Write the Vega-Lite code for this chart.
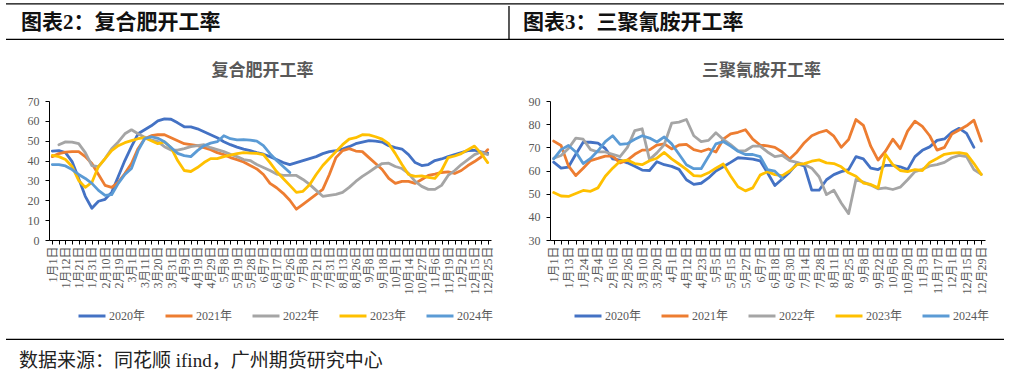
{
 "$schema": "https://vega.github.io/schema/vega-lite/v6.json",
 "background": "white",
 "padding": {"top": 0, "left": 5, "right": 4, "bottom": 0},
 "config": {
  "view": {"stroke": null},
  "font": "Liberation Serif, Noto Sans CJK SC",
  "axis": {"domainColor": "#000000", "tickColor": "#000000", "labelColor": "#595959", "labelFont": "Liberation Serif, Noto Sans CJK SC", "labelFontSize": 12, "grid": false},
  "legend": {"labelFont": "Liberation Serif, Noto Sans CJK SC", "labelFontSize": 12, "labelColor": "#595959", "symbolType": "stroke", "symbolSize": 729, "symbolStrokeWidth": 3, "columnPadding": 13, "labelOffset": 2},
  "title": {"font": "Noto Sans CJK SC", "fontSize": 17, "fontWeight": "bold", "color": "#595959", "anchor": "middle", "offset": 15}
 },
 "datasets": {
  "fert": [
   {"i":0,"year":"2020年","rate":44.8},{"i":1,"year":"2020年","rate":45},{"i":2,"year":"2020年","rate":44},{"i":3,"year":"2020年","rate":39.5},{"i":4,"year":"2020年","rate":31},{"i":5,"year":"2020年","rate":22},{"i":6,"year":"2020年","rate":16},{"i":7,"year":"2020年","rate":19.5},{"i":8,"year":"2020年","rate":20.5},{"i":9,"year":"2020年","rate":24},
   {"i":10,"year":"2020年","rate":32},{"i":11,"year":"2020年","rate":40},{"i":12,"year":"2020年","rate":47},{"i":13,"year":"2020年","rate":53.5},{"i":14,"year":"2020年","rate":55.5},{"i":15,"year":"2020年","rate":57.5},{"i":16,"year":"2020年","rate":60},{"i":17,"year":"2020年","rate":61},{"i":18,"year":"2020年","rate":60.8},{"i":19,"year":"2020年","rate":59},
   {"i":20,"year":"2020年","rate":57},{"i":21,"year":"2020年","rate":57},{"i":22,"year":"2020年","rate":56},{"i":23,"year":"2020年","rate":54.5},{"i":24,"year":"2020年","rate":53},{"i":25,"year":"2020年","rate":51.5},{"i":26,"year":"2020年","rate":49.5},{"i":27,"year":"2020年","rate":48},{"i":28,"year":"2020年","rate":46.8},{"i":29,"year":"2020年","rate":45.8},
   {"i":30,"year":"2020年","rate":45},{"i":31,"year":"2020年","rate":44},{"i":32,"year":"2020年","rate":43.2},{"i":33,"year":"2020年","rate":42},{"i":34,"year":"2020年","rate":40.5},{"i":35,"year":"2020年","rate":39},{"i":36,"year":"2020年","rate":38},{"i":37,"year":"2020年","rate":39},{"i":38,"year":"2020年","rate":40},{"i":39,"year":"2020年","rate":41},
   {"i":40,"year":"2020年","rate":42},{"i":41,"year":"2020年","rate":43.5},{"i":42,"year":"2020年","rate":44.5},{"i":43,"year":"2020年","rate":45},{"i":44,"year":"2020年","rate":45.8},{"i":45,"year":"2020年","rate":47},{"i":46,"year":"2020年","rate":48.5},{"i":47,"year":"2020年","rate":49.3},{"i":48,"year":"2020年","rate":50},{"i":49,"year":"2020年","rate":49.8},
   {"i":50,"year":"2020年","rate":49.3},{"i":51,"year":"2020年","rate":47.5},{"i":52,"year":"2020年","rate":46.5},{"i":53,"year":"2020年","rate":45.8},{"i":54,"year":"2020年","rate":43},{"i":55,"year":"2020年","rate":39},{"i":56,"year":"2020年","rate":37.5},{"i":57,"year":"2020年","rate":38},{"i":58,"year":"2020年","rate":40},{"i":59,"year":"2020年","rate":40.8},
   {"i":60,"year":"2020年","rate":42},{"i":61,"year":"2020年","rate":43},{"i":62,"year":"2020年","rate":44},{"i":63,"year":"2020年","rate":45},{"i":64,"year":"2020年","rate":45.2},{"i":65,"year":"2020年","rate":44.4},{"i":66,"year":"2020年","rate":43.8},

   {"i":0,"year":"2021年","rate":42},{"i":1,"year":"2021年","rate":43.5},{"i":2,"year":"2021年","rate":44.3},{"i":3,"year":"2021年","rate":44.5},{"i":4,"year":"2021年","rate":44.5},{"i":5,"year":"2021年","rate":42},{"i":6,"year":"2021年","rate":38.5},{"i":7,"year":"2021年","rate":33},{"i":8,"year":"2021年","rate":27.5},{"i":9,"year":"2021年","rate":26.5},
   {"i":10,"year":"2021年","rate":29},{"i":11,"year":"2021年","rate":33.5},{"i":12,"year":"2021年","rate":38.5},{"i":13,"year":"2021年","rate":46},{"i":14,"year":"2021年","rate":51},{"i":15,"year":"2021年","rate":52.5},{"i":16,"year":"2021年","rate":53},{"i":17,"year":"2021年","rate":53},{"i":18,"year":"2021年","rate":51.5},{"i":19,"year":"2021年","rate":50},
   {"i":20,"year":"2021年","rate":48.5},{"i":21,"year":"2021年","rate":48},{"i":22,"year":"2021年","rate":47.5},{"i":23,"year":"2021年","rate":46.5},{"i":24,"year":"2021年","rate":45.5},{"i":25,"year":"2021年","rate":44},{"i":26,"year":"2021年","rate":43},{"i":27,"year":"2021年","rate":41.5},{"i":28,"year":"2021年","rate":40.5},{"i":29,"year":"2021年","rate":39.3},
   {"i":30,"year":"2021年","rate":37.5},{"i":31,"year":"2021年","rate":35.8},{"i":32,"year":"2021年","rate":33},{"i":33,"year":"2021年","rate":28.5},{"i":34,"year":"2021年","rate":26.3},{"i":35,"year":"2021年","rate":23.5},{"i":36,"year":"2021年","rate":20},{"i":37,"year":"2021年","rate":15.5},{"i":38,"year":"2021年","rate":18},{"i":39,"year":"2021年","rate":20.5},
   {"i":40,"year":"2021年","rate":23},{"i":41,"year":"2021年","rate":25.5},{"i":42,"year":"2021年","rate":33},{"i":43,"year":"2021年","rate":41.5},{"i":44,"year":"2021年","rate":45},{"i":45,"year":"2021年","rate":46},{"i":46,"year":"2021年","rate":44.8},{"i":47,"year":"2021年","rate":44.5},{"i":48,"year":"2021年","rate":41.5},{"i":49,"year":"2021年","rate":38.5},
   {"i":50,"year":"2021年","rate":35.5},{"i":51,"year":"2021年","rate":31},{"i":52,"year":"2021年","rate":28.5},{"i":53,"year":"2021年","rate":29.5},{"i":54,"year":"2021年","rate":29.5},{"i":55,"year":"2021年","rate":28.5},{"i":56,"year":"2021年","rate":30.5},{"i":57,"year":"2021年","rate":32.5},{"i":58,"year":"2021年","rate":33.2},{"i":59,"year":"2021年","rate":34},
   {"i":60,"year":"2021年","rate":34.3},{"i":61,"year":"2021年","rate":33.5},{"i":62,"year":"2021年","rate":35},{"i":63,"year":"2021年","rate":37.5},{"i":64,"year":"2021年","rate":39.5},{"i":65,"year":"2021年","rate":41.8},{"i":66,"year":"2021年","rate":45.5},

   {"i":1,"year":"2022年","rate":48},{"i":2,"year":"2022年","rate":49.4},{"i":3,"year":"2022年","rate":49.3},{"i":4,"year":"2022年","rate":48.5},{"i":5,"year":"2022年","rate":44},{"i":6,"year":"2022年","rate":37.5},{"i":7,"year":"2022年","rate":37},{"i":8,"year":"2022年","rate":41},{"i":9,"year":"2022年","rate":46},{"i":10,"year":"2022年","rate":49.4},
   {"i":11,"year":"2022年","rate":53.5},{"i":12,"year":"2022年","rate":55.5},{"i":13,"year":"2022年","rate":53.5},{"i":14,"year":"2022年","rate":51.8},{"i":15,"year":"2022年","rate":50.5},{"i":16,"year":"2022年","rate":49.5},{"i":17,"year":"2022年","rate":47},{"i":18,"year":"2022年","rate":45.3},{"i":19,"year":"2022年","rate":45.3},{"i":20,"year":"2022年","rate":46},
   {"i":21,"year":"2022年","rate":47},{"i":22,"year":"2022年","rate":47.5},{"i":23,"year":"2022年","rate":48},{"i":24,"year":"2022年","rate":46.5},{"i":25,"year":"2022年","rate":45.5},{"i":26,"year":"2022年","rate":44.5},{"i":27,"year":"2022年","rate":43.2},{"i":28,"year":"2022年","rate":42},{"i":29,"year":"2022年","rate":40.5},{"i":30,"year":"2022年","rate":40},
   {"i":31,"year":"2022年","rate":38},{"i":32,"year":"2022年","rate":36.5},{"i":33,"year":"2022年","rate":35},{"i":34,"year":"2022年","rate":33.2},{"i":35,"year":"2022年","rate":32.5},{"i":36,"year":"2022年","rate":32.5},{"i":37,"year":"2022年","rate":32.5},{"i":38,"year":"2022年","rate":30.5},{"i":39,"year":"2022年","rate":28},{"i":40,"year":"2022年","rate":25},
   {"i":41,"year":"2022年","rate":22},{"i":42,"year":"2022年","rate":22.5},{"i":43,"year":"2022年","rate":23},{"i":44,"year":"2022年","rate":24},{"i":45,"year":"2022年","rate":26.5},{"i":46,"year":"2022年","rate":29.5},{"i":47,"year":"2022年","rate":32},{"i":48,"year":"2022年","rate":34.2},{"i":49,"year":"2022年","rate":36.5},{"i":50,"year":"2022年","rate":38.5},
   {"i":51,"year":"2022年","rate":38.7},{"i":52,"year":"2022年","rate":37},{"i":53,"year":"2022年","rate":36},{"i":54,"year":"2022年","rate":33.5},{"i":55,"year":"2022年","rate":29.5},{"i":56,"year":"2022年","rate":27},{"i":57,"year":"2022年","rate":25.5},{"i":58,"year":"2022年","rate":25.5},{"i":59,"year":"2022年","rate":27.5},{"i":60,"year":"2022年","rate":32.5},
   {"i":61,"year":"2022年","rate":35},{"i":62,"year":"2022年","rate":38},{"i":63,"year":"2022年","rate":40.5},{"i":64,"year":"2022年","rate":43},{"i":65,"year":"2022年","rate":44.3},{"i":66,"year":"2022年","rate":43},

   {"i":0,"year":"2023年","rate":42.6},{"i":1,"year":"2023年","rate":42},{"i":2,"year":"2023年","rate":40.5},{"i":3,"year":"2023年","rate":37},{"i":4,"year":"2023年","rate":30},{"i":5,"year":"2023年","rate":26.5},{"i":6,"year":"2023年","rate":29},{"i":7,"year":"2023年","rate":37},{"i":8,"year":"2023年","rate":41},{"i":9,"year":"2023年","rate":45},
   {"i":10,"year":"2023年","rate":47.5},{"i":11,"year":"2023年","rate":49},{"i":12,"year":"2023年","rate":50},{"i":13,"year":"2023年","rate":51},{"i":14,"year":"2023年","rate":51.5},{"i":15,"year":"2023年","rate":50},{"i":16,"year":"2023年","rate":48.5},{"i":17,"year":"2023年","rate":49.4},{"i":18,"year":"2023年","rate":46.5},{"i":19,"year":"2023年","rate":40},
   {"i":20,"year":"2023年","rate":35},{"i":21,"year":"2023年","rate":34.5},{"i":22,"year":"2023年","rate":36.5},{"i":23,"year":"2023年","rate":39},{"i":24,"year":"2023年","rate":41},{"i":25,"year":"2023年","rate":41},{"i":26,"year":"2023年","rate":42},{"i":27,"year":"2023年","rate":42.8},{"i":28,"year":"2023年","rate":43.5},{"i":29,"year":"2023年","rate":44},
   {"i":30,"year":"2023年","rate":43.8},{"i":31,"year":"2023年","rate":43.6},{"i":32,"year":"2023年","rate":43},{"i":33,"year":"2023年","rate":39},{"i":34,"year":"2023年","rate":34.5},{"i":35,"year":"2023年","rate":31},{"i":36,"year":"2023年","rate":27.5},{"i":37,"year":"2023年","rate":24},{"i":38,"year":"2023年","rate":24.5},{"i":39,"year":"2023年","rate":27.8},
   {"i":40,"year":"2023年","rate":33},{"i":41,"year":"2023年","rate":37.5},{"i":42,"year":"2023年","rate":41},{"i":43,"year":"2023年","rate":44.5},{"i":44,"year":"2023年","rate":48},{"i":45,"year":"2023年","rate":50.8},{"i":46,"year":"2023年","rate":51.5},{"i":47,"year":"2023年","rate":53},{"i":48,"year":"2023年","rate":52.9},{"i":49,"year":"2023年","rate":52},
   {"i":50,"year":"2023年","rate":50.8},{"i":51,"year":"2023年","rate":48.5},{"i":52,"year":"2023年","rate":43.5},{"i":53,"year":"2023年","rate":38},{"i":54,"year":"2023年","rate":33},{"i":55,"year":"2023年","rate":32},{"i":56,"year":"2023年","rate":32.3},{"i":57,"year":"2023年","rate":31.5},{"i":58,"year":"2023年","rate":31},{"i":59,"year":"2023年","rate":35},
   {"i":60,"year":"2023年","rate":41.5},{"i":61,"year":"2023年","rate":42.3},{"i":62,"year":"2023年","rate":43.5},{"i":63,"year":"2023年","rate":45.5},{"i":64,"year":"2023年","rate":47.3},{"i":65,"year":"2023年","rate":43.6},{"i":66,"year":"2023年","rate":39},

   {"i":0,"year":"2024年","rate":38},{"i":1,"year":"2024年","rate":38},{"i":2,"year":"2024年","rate":37.3},{"i":3,"year":"2024年","rate":35.5},{"i":4,"year":"2024年","rate":33},{"i":5,"year":"2024年","rate":31},{"i":6,"year":"2024年","rate":28.5},{"i":7,"year":"2024年","rate":25},{"i":8,"year":"2024年","rate":22.5},{"i":9,"year":"2024年","rate":22.8},
   {"i":10,"year":"2024年","rate":28.5},{"i":11,"year":"2024年","rate":33},{"i":12,"year":"2024年","rate":36},{"i":13,"year":"2024年","rate":45},{"i":14,"year":"2024年","rate":51},{"i":15,"year":"2024年","rate":52},{"i":16,"year":"2024年","rate":51.2},{"i":17,"year":"2024年","rate":49.5},{"i":18,"year":"2024年","rate":46.5},{"i":19,"year":"2024年","rate":43.6},
   {"i":20,"year":"2024年","rate":42.5},{"i":21,"year":"2024年","rate":42},{"i":22,"year":"2024年","rate":45},{"i":23,"year":"2024年","rate":47.5},{"i":24,"year":"2024年","rate":48.8},{"i":25,"year":"2024年","rate":49.5},{"i":26,"year":"2024年","rate":52.5},{"i":27,"year":"2024年","rate":51},{"i":28,"year":"2024年","rate":50.4},{"i":29,"year":"2024年","rate":50.6},
   {"i":30,"year":"2024年","rate":50.3},{"i":31,"year":"2024年","rate":49.8},{"i":32,"year":"2024年","rate":47.5},{"i":33,"year":"2024年","rate":43.5},{"i":34,"year":"2024年","rate":40},{"i":35,"year":"2024年","rate":37},{"i":36,"year":"2024年","rate":34}
  ],
  "mel": [
   {"i":0,"year":"2020年","rate":63.6},{"i":1,"year":"2020年","rate":61},{"i":2,"year":"2020年","rate":61.5},{"i":3,"year":"2020年","rate":67},{"i":4,"year":"2020年","rate":72.2},{"i":5,"year":"2020年","rate":72.2},{"i":6,"year":"2020年","rate":71.8},{"i":7,"year":"2020年","rate":69.5},{"i":8,"year":"2020年","rate":65},{"i":9,"year":"2020年","rate":64.5},
   {"i":10,"year":"2020年","rate":63.3},{"i":11,"year":"2020年","rate":61.8},{"i":12,"year":"2020年","rate":60.2},{"i":13,"year":"2020年","rate":60},{"i":14,"year":"2020年","rate":63.8},{"i":15,"year":"2020年","rate":62.5},{"i":16,"year":"2020年","rate":61.8},{"i":17,"year":"2020年","rate":60.5},{"i":18,"year":"2020年","rate":56},{"i":19,"year":"2020年","rate":54},
   {"i":20,"year":"2020年","rate":54.5},{"i":21,"year":"2020年","rate":56.8},{"i":22,"year":"2020年","rate":59.8},{"i":23,"year":"2020年","rate":61.6},{"i":24,"year":"2020年","rate":63.5},{"i":25,"year":"2020年","rate":65.5},{"i":26,"year":"2020年","rate":65.2},{"i":27,"year":"2020年","rate":64.9},{"i":28,"year":"2020年","rate":64.2},{"i":29,"year":"2020年","rate":59},
   {"i":30,"year":"2020年","rate":53.5},{"i":31,"year":"2020年","rate":56.3},{"i":32,"year":"2020年","rate":59.3},{"i":33,"year":"2020年","rate":63},{"i":34,"year":"2020年","rate":62},{"i":35,"year":"2020年","rate":51.5},{"i":36,"year":"2020年","rate":51.5},{"i":37,"year":"2020年","rate":56},{"i":38,"year":"2020年","rate":58.2},{"i":39,"year":"2020年","rate":59.5},
   {"i":40,"year":"2020年","rate":60.4},{"i":41,"year":"2020年","rate":66},{"i":42,"year":"2020年","rate":65},{"i":43,"year":"2020年","rate":61},{"i":44,"year":"2020年","rate":60.4},{"i":45,"year":"2020年","rate":62.2},{"i":46,"year":"2020年","rate":62.2},{"i":47,"year":"2020年","rate":61.6},{"i":48,"year":"2020年","rate":60.4},{"i":49,"year":"2020年","rate":66},
   {"i":50,"year":"2020年","rate":68.7},{"i":51,"year":"2020年","rate":70.2},{"i":52,"year":"2020年","rate":73},{"i":53,"year":"2020年","rate":73.6},{"i":54,"year":"2020年","rate":76.5},{"i":55,"year":"2020年","rate":78.2},{"i":56,"year":"2020年","rate":76},{"i":57,"year":"2020年","rate":70},

   {"i":0,"year":"2021年","rate":72.7},{"i":1,"year":"2021年","rate":70.8},{"i":2,"year":"2021年","rate":62},{"i":3,"year":"2021年","rate":57.8},{"i":4,"year":"2021年","rate":61},{"i":5,"year":"2021年","rate":64.3},{"i":6,"year":"2021年","rate":65.2},{"i":7,"year":"2021年","rate":66.2},{"i":8,"year":"2021年","rate":66.2},{"i":9,"year":"2021年","rate":63.3},
   {"i":10,"year":"2021年","rate":64.5},{"i":11,"year":"2021年","rate":67},{"i":12,"year":"2021年","rate":68.8},{"i":13,"year":"2021年","rate":68.9},{"i":14,"year":"2021年","rate":71},{"i":15,"year":"2021年","rate":71.5},{"i":16,"year":"2021年","rate":69.3},{"i":17,"year":"2021年","rate":71},{"i":18,"year":"2021年","rate":71.3},{"i":19,"year":"2021年","rate":69},
   {"i":20,"year":"2021年","rate":68.2},{"i":21,"year":"2021年","rate":69.3},{"i":22,"year":"2021年","rate":68},{"i":23,"year":"2021年","rate":73.5},{"i":24,"year":"2021年","rate":75.8},{"i":25,"year":"2021年","rate":76.5},{"i":26,"year":"2021年","rate":77.6},{"i":27,"year":"2021年","rate":73.5},{"i":28,"year":"2021年","rate":71},{"i":29,"year":"2021年","rate":70.6},
   {"i":30,"year":"2021年","rate":70},{"i":31,"year":"2021年","rate":68},{"i":32,"year":"2021年","rate":65},{"i":33,"year":"2021年","rate":68},{"i":34,"year":"2021年","rate":72},{"i":35,"year":"2021年","rate":75},{"i":36,"year":"2021年","rate":76.4},{"i":37,"year":"2021年","rate":77.3},{"i":38,"year":"2021年","rate":74.8},{"i":39,"year":"2021年","rate":70},
   {"i":40,"year":"2021年","rate":73.4},{"i":41,"year":"2021年","rate":82},{"i":42,"year":"2021年","rate":79.5},{"i":43,"year":"2021年","rate":70.5},{"i":44,"year":"2021年","rate":64.5},{"i":45,"year":"2021年","rate":68.3},{"i":46,"year":"2021年","rate":73.5},{"i":47,"year":"2021年","rate":69.4},{"i":48,"year":"2021年","rate":77},{"i":49,"year":"2021年","rate":81.3},
   {"i":50,"year":"2021年","rate":79},{"i":51,"year":"2021年","rate":75},{"i":52,"year":"2021年","rate":68.8},{"i":53,"year":"2021年","rate":70},{"i":54,"year":"2021年","rate":75.7},{"i":55,"year":"2021年","rate":77.5},{"i":56,"year":"2021年","rate":79.3},{"i":57,"year":"2021年","rate":81.7},{"i":58,"year":"2021年","rate":72.7},

   {"i":0,"year":"2022年","rate":65.3},{"i":1,"year":"2022年","rate":66.5},{"i":2,"year":"2022年","rate":69.5},{"i":3,"year":"2022年","rate":74},{"i":4,"year":"2022年","rate":73.5},{"i":5,"year":"2022年","rate":69},{"i":6,"year":"2022年","rate":68},{"i":7,"year":"2022年","rate":68},{"i":8,"year":"2022年","rate":67},{"i":9,"year":"2022年","rate":66},
   {"i":10,"year":"2022年","rate":70},{"i":11,"year":"2022年","rate":77.2},{"i":12,"year":"2022年","rate":78},{"i":13,"year":"2022年","rate":64.7},{"i":14,"year":"2022年","rate":67.6},{"i":15,"year":"2022年","rate":71.2},{"i":16,"year":"2022年","rate":80.4},{"i":17,"year":"2022年","rate":80.9},{"i":18,"year":"2022年","rate":82},{"i":19,"year":"2022年","rate":75},
   {"i":20,"year":"2022年","rate":72.5},{"i":21,"year":"2022年","rate":73},{"i":22,"year":"2022年","rate":76.3},{"i":23,"year":"2022年","rate":73.4},{"i":24,"year":"2022年","rate":71.2},{"i":25,"year":"2022年","rate":68.5},{"i":26,"year":"2022年","rate":68.5},{"i":27,"year":"2022年","rate":70.5},{"i":28,"year":"2022年","rate":70.5},{"i":29,"year":"2022年","rate":68},
   {"i":30,"year":"2022年","rate":66},{"i":31,"year":"2022年","rate":66.5},{"i":32,"year":"2022年","rate":64.3},{"i":33,"year":"2022年","rate":63.5},{"i":34,"year":"2022年","rate":62.6},{"i":35,"year":"2022年","rate":61},{"i":36,"year":"2022年","rate":57.3},{"i":37,"year":"2022年","rate":49.6},{"i":38,"year":"2022年","rate":51.5},{"i":39,"year":"2022年","rate":46},
   {"i":40,"year":"2022年","rate":41.4},{"i":41,"year":"2022年","rate":56.1},{"i":42,"year":"2022年","rate":55},{"i":43,"year":"2022年","rate":53.7},{"i":44,"year":"2022年","rate":52.1},{"i":45,"year":"2022年","rate":52.5},{"i":46,"year":"2022年","rate":51.8},{"i":47,"year":"2022年","rate":52.8},{"i":48,"year":"2022年","rate":56},{"i":49,"year":"2022年","rate":59.5},
   {"i":50,"year":"2022年","rate":60.5},{"i":51,"year":"2022年","rate":62},{"i":52,"year":"2022年","rate":62.5},{"i":53,"year":"2022年","rate":63.5},{"i":54,"year":"2022年","rate":65.5},{"i":55,"year":"2022年","rate":66.5},{"i":56,"year":"2022年","rate":66},{"i":57,"year":"2022年","rate":60.4},{"i":58,"year":"2022年","rate":58.3},

   {"i":0,"year":"2023年","rate":50.5},{"i":1,"year":"2023年","rate":49},{"i":2,"year":"2023年","rate":48.8},{"i":3,"year":"2023年","rate":50.1},{"i":4,"year":"2023年","rate":51.4},{"i":5,"year":"2023年","rate":51},{"i":6,"year":"2023年","rate":52.5},{"i":7,"year":"2023年","rate":57.5},{"i":8,"year":"2023年","rate":61},{"i":9,"year":"2023年","rate":64},
   {"i":10,"year":"2023年","rate":64.5},{"i":11,"year":"2023年","rate":63},{"i":12,"year":"2023年","rate":62.5},{"i":13,"year":"2023年","rate":64.2},{"i":14,"year":"2023年","rate":65.3},{"i":15,"year":"2023年","rate":67.8},{"i":16,"year":"2023年","rate":65},{"i":17,"year":"2023年","rate":62.8},{"i":18,"year":"2023年","rate":60.5},{"i":19,"year":"2023年","rate":57.8},
   {"i":20,"year":"2023年","rate":57.6},{"i":21,"year":"2023年","rate":59},{"i":22,"year":"2023年","rate":61},{"i":23,"year":"2023年","rate":62.8},{"i":24,"year":"2023年","rate":57.6},{"i":25,"year":"2023年","rate":53},{"i":26,"year":"2023年","rate":51.2},{"i":27,"year":"2023年","rate":52.5},{"i":28,"year":"2023年","rate":58},{"i":29,"year":"2023年","rate":59.5},
   {"i":30,"year":"2023年","rate":58.2},{"i":31,"year":"2023年","rate":57.8},{"i":32,"year":"2023年","rate":59.8},{"i":33,"year":"2023年","rate":62.5},{"i":34,"year":"2023年","rate":63},{"i":35,"year":"2023年","rate":64},{"i":36,"year":"2023年","rate":64.6},{"i":37,"year":"2023年","rate":63.3},{"i":38,"year":"2023年","rate":63},{"i":39,"year":"2023年","rate":61.6},
   {"i":40,"year":"2023年","rate":59},{"i":41,"year":"2023年","rate":57.5},{"i":42,"year":"2023年","rate":54.6},{"i":43,"year":"2023年","rate":54},{"i":44,"year":"2023年","rate":52.5},{"i":45,"year":"2023年","rate":67},{"i":46,"year":"2023年","rate":62.5},{"i":47,"year":"2023年","rate":60},{"i":48,"year":"2023年","rate":59.5},{"i":49,"year":"2023年","rate":60.4},
   {"i":50,"year":"2023年","rate":60},{"i":51,"year":"2023年","rate":63.5},{"i":52,"year":"2023年","rate":65.2},{"i":53,"year":"2023年","rate":67},{"i":54,"year":"2023年","rate":67.5},{"i":55,"year":"2023年","rate":67.7},{"i":56,"year":"2023年","rate":67.2},{"i":57,"year":"2023年","rate":63},{"i":58,"year":"2023年","rate":58.3},

   {"i":0,"year":"2024年","rate":65},{"i":1,"year":"2024年","rate":69},{"i":2,"year":"2024年","rate":70.8},{"i":3,"year":"2024年","rate":68},{"i":4,"year":"2024年","rate":63},{"i":5,"year":"2024年","rate":65.2},{"i":6,"year":"2024年","rate":68.5},{"i":7,"year":"2024年","rate":72.5},{"i":8,"year":"2024年","rate":75},{"i":9,"year":"2024年","rate":71.3},
   {"i":10,"year":"2024年","rate":71.6},{"i":11,"year":"2024年","rate":73.5},{"i":12,"year":"2024年","rate":75},{"i":13,"year":"2024年","rate":74},{"i":14,"year":"2024年","rate":72.3},{"i":15,"year":"2024年","rate":74.5},{"i":16,"year":"2024年","rate":71.5},{"i":17,"year":"2024年","rate":67},{"i":18,"year":"2024年","rate":62.5},{"i":19,"year":"2024年","rate":60.8},
   {"i":20,"year":"2024年","rate":60.8},{"i":21,"year":"2024年","rate":66},{"i":22,"year":"2024年","rate":71.5},{"i":23,"year":"2024年","rate":72.5},{"i":24,"year":"2024年","rate":70.5},{"i":25,"year":"2024年","rate":68.3},{"i":26,"year":"2024年","rate":66.9},{"i":27,"year":"2024年","rate":66.9},{"i":28,"year":"2024年","rate":66},{"i":29,"year":"2024年","rate":60.4},
   {"i":30,"year":"2024年","rate":59.7},{"i":31,"year":"2024年","rate":56.5}
  ]
 },
 "spacing": 21,
 "vconcat": [
  {
   "spacing": 0,
   "vconcat": [
    {
     "width": 998,
     "height": 4,
     "data": {"values": [{"h": 0.05}]},
     "mark": {"type": "rule", "color": "#000000", "strokeWidth": 1.3},
     "encoding": {"y": {"field": "h", "type": "quantitative", "scale": {"domain": [0, 1], "nice": false}, "axis": null}}
    },
    {
     "width": 998,
     "height": 34,
     "layer": [
      {
       "data": {"values": [{"h": 0.02}]},
       "mark": {"type": "rule", "color": "#000000", "strokeWidth": 1.3},
       "encoding": {"y": {"field": "h", "type": "quantitative", "scale": {"domain": [0, 1], "nice": false}, "axis": null}}
      },
      {
       "data": {"values": [{"p": 0.504}]},
       "mark": {"type": "rule", "color": "#000000", "strokeWidth": 1.3},
       "encoding": {"x": {"field": "p", "type": "quantitative", "scale": {"domain": [0, 1], "nice": false}, "axis": null}}
      },
      {
       "data": {"values": [{"p": 0, "label": "图表2：复合肥开工率"}]},
       "mark": {"type": "text", "align": "left", "baseline": "middle", "dx": 15, "font": "Liberation Serif, Noto Sans CJK SC", "fontSize": 21, "fontWeight": "bold", "color": "#111111"},
       "encoding": {
        "x": {"field": "p", "type": "quantitative", "scale": {"domain": [0, 1], "nice": false}, "axis": null},
        "text": {"field": "label"}
       }
      },
      {
       "data": {"values": [{"p": 0.504, "label": "图表3：三聚氰胺开工率"}]},
       "mark": {"type": "text", "align": "left", "baseline": "middle", "dx": 14, "font": "Liberation Serif, Noto Sans CJK SC", "fontSize": 21, "fontWeight": "bold", "color": "#111111"},
       "encoding": {
        "x": {"field": "p", "type": "quantitative", "scale": {"domain": [0, 1], "nice": false}, "axis": null},
        "text": {"field": "label"}
       }
      }
     ]
    }
   ]
  },
  {
   "spacing": 0,
   "vconcat": [
    {
     "spacing": 28,
     "resolve": {"legend": {"color": "independent"}},
     "hconcat": [
      {
       "width": 485,
       "height": 139,
       "title": {"text": "复合肥开工率", "dx": 14},
       "data": {"name": "fert"},
       "mark": {"type": "line", "strokeWidth": 2.8, "strokeJoin": "round", "strokeCap": "round"},
       "encoding": {
        "x": {
         "field": "i", "type": "quantitative", "title": null,
         "scale": {"domain": [-0.5, 66.5], "range": [43, 485], "nice": false, "zero": false},
         "axis": {
          "values": [0,1,2,3,4,5,6,7,8,9,10,11,12,13,14,15,16,17,18,19,20,21,22,23,24,25,26,27,28,29,30,31,32,33,34,35,36,37,38,39,40,41,42,43,44,45,46,47,48,49,50,51,52,53,54,55,56,57,58,59,60,61,62,63,64,65,66],
          "labelExpr": "datum.value % 2 == 0 ? ['1月1日','1月12日','1月21日','1月31日','2月10日','2月19日','3月1日','3月11日','3月20日','3月31日','4月9日','4月19日','4月29日','5月8日','5月19日','5月28日','6月7日','6月17日','6月26日','7月8日','7月21日','7月31日','8月13日','8月26日','9月8日','9月18日','10月1日','10月14日','10月27日','11月6日','11月19日','12月2日','12月15日','12月25日'][datum.value / 2] : ''",
          "labelAngle": -90, "labelOverlap": false, "labelFlush": false, "labelBound": false, "tickSize": 4, "labelPadding": 2
         }
        },
        "y": {
         "field": "rate", "type": "quantitative", "title": null,
         "scale": {"domain": [0, 70], "nice": false, "zero": false},
         "axis": {"values": [0,10,20,30,40,50,60,70], "offset": -43, "labelPadding": 6, "tickSize": 4}
        },
        "color": {
         "field": "year", "type": "nominal",
         "scale": {"domain": ["2020年","2021年","2022年","2023年","2024年"], "range": ["#4472C4","#ED7D31","#A5A5A5","#FFC000","#5B9BD5"]},
         "legend": {"orient": "none", "legendX": 71, "legendY": 200, "direction": "horizontal", "title": null}
        }
       }
      },
      {
       "width": 463,
       "height": 139,
       "title": {"text": "三聚氰胺开工率", "dx": 8},
       "data": {"name": "mel"},
       "mark": {"type": "line", "strokeWidth": 2.8, "strokeJoin": "round", "strokeCap": "round"},
       "encoding": {
        "x": {
         "field": "i", "type": "quantitative", "title": null,
         "scale": {"domain": [-0.5, 58.5], "range": [28, 463], "nice": false, "zero": false},
         "axis": {
          "values": [0,1,2,3,4,5,6,7,8,9,10,11,12,13,14,15,16,17,18,19,20,21,22,23,24,25,26,27,28,29,30,31,32,33,34,35,36,37,38,39,40,41,42,43,44,45,46,47,48,49,50,51,52,53,54,55,56,57,58],
          "labelExpr": "datum.value % 2 == 0 ? ['1月1日','1月13日','1月24日','2月4日','2月16日','2月26日','3月10日','3月20日','4月1日','4月12日','4月23日','5月5日','5月15日','5月27日','6月7日','6月18日','6月30日','7月14日','7月28日','8月11日','8月25日','9月8日','9月22日','10月6日','10月20日','11月3日','11月17日','12月1日','12月15日','12月29日'][datum.value / 2] : ''",
          "labelAngle": -90, "labelOverlap": false, "labelFlush": false, "labelBound": false, "tickSize": 4, "labelPadding": 2
         }
        },
        "y": {
         "field": "rate", "type": "quantitative", "title": null,
         "scale": {"domain": [30, 90], "nice": false, "zero": false},
         "axis": {"values": [30,40,50,60,70,80,90], "offset": -28, "labelPadding": 6, "tickSize": 4}
        },
        "color": {
         "field": "year", "type": "nominal",
         "scale": {"domain": ["2020年","2021年","2022年","2023年","2024年"], "range": ["#4472C4","#ED7D31","#A5A5A5","#FFC000","#5B9BD5"]},
         "legend": {"orient": "none", "legendX": 51, "legendY": 200, "direction": "horizontal", "title": null}
        }
       }
      }
     ]
    },
    {
     "width": 998,
     "height": 18,
     "data": {"values": [{"h": 0.03}]},
     "mark": {"type": "rule", "color": "#000000", "strokeWidth": 1.3},
     "encoding": {"y": {"field": "h", "type": "quantitative", "scale": {"domain": [0, 1], "nice": false}, "axis": null}}
    },
    {
     "width": 998,
     "height": 37,
     "data": {"values": [{"p": 0, "label": "数据来源：同花顺 ifind，广州期货研究中心"}]},
     "mark": {"type": "text", "align": "left", "baseline": "middle", "dx": 13, "dy": 1, "font": "Liberation Serif, Noto Sans CJK SC", "fontSize": 19, "color": "#222222"},
     "encoding": {
      "x": {"field": "p", "type": "quantitative", "scale": {"domain": [0, 1], "nice": false}, "axis": null},
      "text": {"field": "label"}
     }
    }
   ]
  }
 ]
}
